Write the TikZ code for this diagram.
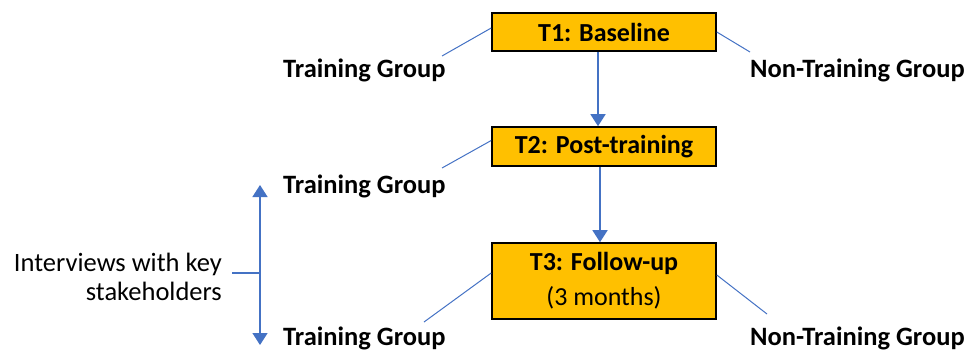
\documentclass[tikz,border=0pt]{standalone}
\usepackage{fontspec}
\setmainfont{Carlito}
\usetikzlibrary{arrows.meta}
\definecolor{boxgold}{HTML}{FFC000}
\definecolor{lineblue}{HTML}{4472C4}
\begin{document}
\begin{tikzpicture}[x=1pt,y=-1pt,
  stagebox/.style={draw=black,line width=1.6pt,fill=boxgold,minimum width=224pt,inner sep=0pt,font=\fontsize{26}{35}\selectfont\bfseries,align=center},
  grouplabel/.style={inner sep=0pt,font=\fontsize{26.5}{29}\selectfont\bfseries},
  link/.style={draw=lineblue,line width=1pt},
  flow/.style={draw=lineblue,line width=1.5pt,-{Triangle[width=15pt,length=12pt]}},
  both/.style={draw=lineblue,line width=1.5pt,{Triangle[width=15pt,length=12pt]}-{Triangle[width=15pt,length=12pt]}}
]
\useasboundingbox (0,0) rectangle (969,349);
% boxes
\node[stagebox,minimum height=38pt] (T1) at (604,32) {T1: Baseline};
\node[stagebox,minimum height=39pt] (T2) at (604,146.5) {T2: Post-training};
\node[stagebox,minimum height=76pt] (T3) at (604,281) {T3: Follow-up\\{\mdseries (3 months)}};
% group labels
\node[grouplabel,anchor=base west] (g1) at (283,77) {Training Group};
\node[grouplabel,anchor=base west] (n1) at (750,77) {Non-Training Group};
\node[grouplabel,anchor=base west] (g2) at (283,193) {Training Group};
\node[grouplabel,anchor=base west] (g3) at (283,345) {Training Group};
\node[grouplabel,anchor=base west] (n3) at (750,345) {Non-Training Group};
% interviews
\node[inner sep=0pt,anchor=east,align=right,font=\fontsize{26.5}{29.5}\selectfont] (iv) at (222,277) {Interviews with key\\stakeholders};
% free ends
\coordinate (a1) at (442,56);
\coordinate (b1) at (750,52);
\coordinate (a2) at (442,168);
\coordinate (a3) at (424,322);
\coordinate (b3) at (767,314);
\coordinate (vt) at (260,185);
\coordinate (vb) at (260,345);
\coordinate (vm) at (260,273);
\coordinate (ivend) at (232,273);
% connectors
\draw[link] ([yshift=4pt]T1.west) -- (a1);
\draw[link] (T1.east) -- (b1);
\draw[link] ([yshift=6pt]T2.west) -- (a2);
\draw[link] ([yshift=8pt]T3.west) -- (a3);
\draw[link] ([yshift=6pt]T3.east) -- (b3);
\draw[flow] (T1.south -| 598,0) -- (T2.north -| 598,0);
\draw[flow] (T2.south -| 600,0) -- (T3.north -| 600,0);
\draw[both] (vt) -- (vb);
\draw[link,line width=1.5pt] (ivend) -- (vm);
\end{tikzpicture}
\end{document}
